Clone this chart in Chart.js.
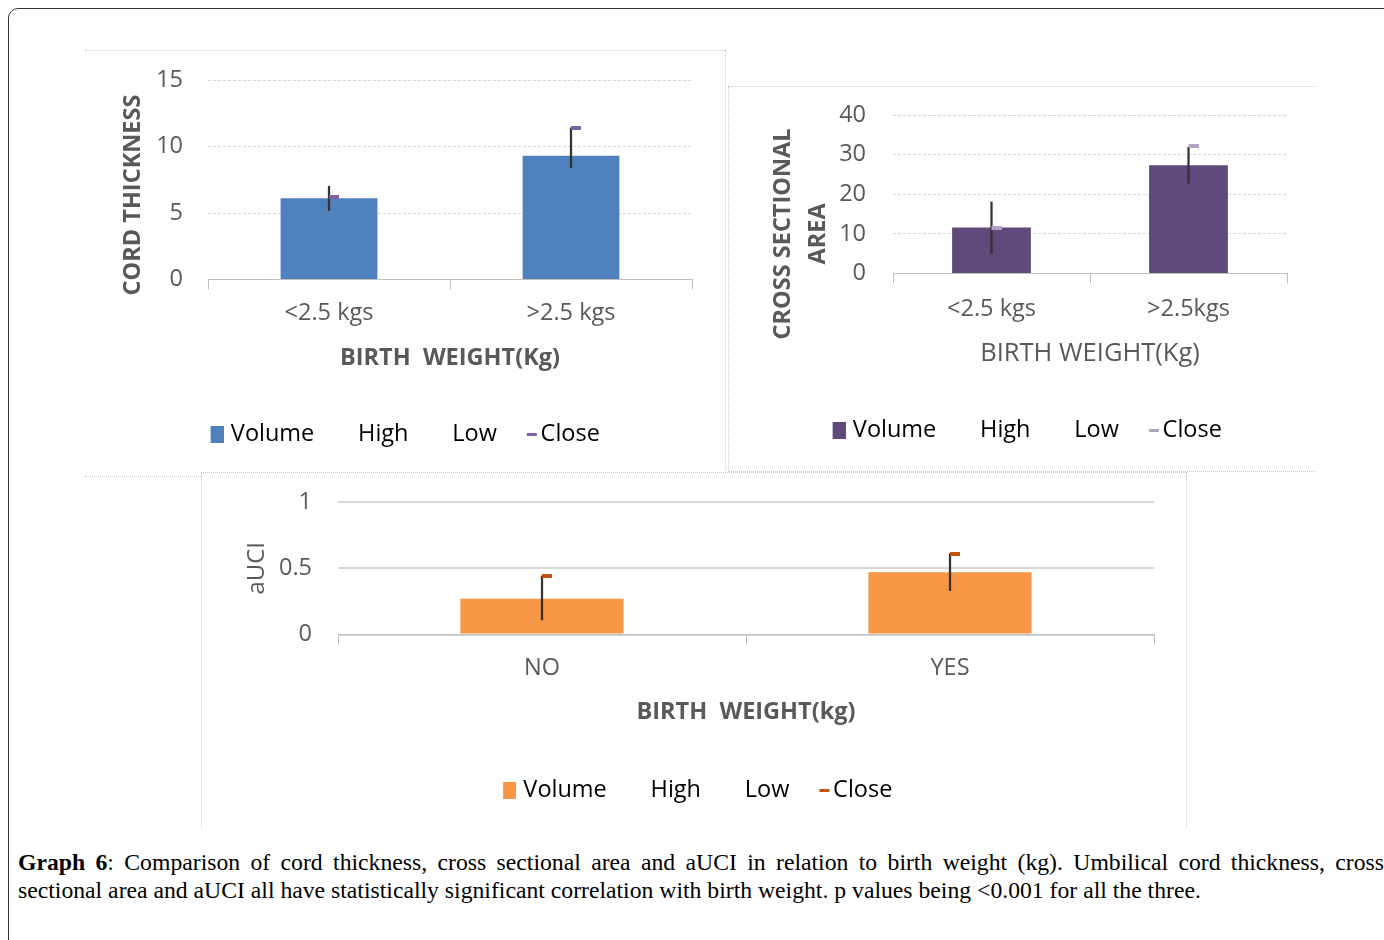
<!DOCTYPE html>
<html>
<head>
<meta charset="utf-8">
<script src="https://cdn.jsdelivr.net/npm/chart.js@4"></script>
<style>
  body { margin: 0; background: #fff; width: 1384px; height: 940px; overflow: hidden; position: relative; font-family: "Open Sans", sans-serif; }
  .outer { position: absolute; left: 8px; top: 8px; width: 1420px; height: 960px; border: 1px solid #333; border-radius: 10px; }
  .box { position: absolute; }
  .line { position: absolute; border-color: #c8c8c8; border-style: dotted; border-width: 0; }
  .caption { position: absolute; left: 18px; font-family: "Liberation Serif", serif; font-size: 23.7px; line-height: 28px; color: #000; white-space: nowrap; }
  .caption.first { width: 1366px; text-align: justify; text-align-last: justify; }
</style>
</head>
<body>
<div class="outer"></div>

<!-- panel frames -->
<div class="line" style="left:85px; top:50px; width:640px; border-top-width:1px;"></div>
<div class="line" style="left:725px; top:50px; height:420px; border-left-width:1px;"></div>
<div class="line" style="left:85px; top:476px; width:116px; border-top-width:1px;"></div>
<div class="line" style="left:728px; top:86px; width:588px; border-top-width:1px;"></div>
<div class="line" style="left:728px; top:86px; height:384px; border-left-width:1px;"></div>
<div class="line" style="left:728px; top:471px; width:588px; border-top-width:1px;"></div>
<div class="line" style="left:201px; top:472px; width:985px; border-top-width:1px;"></div>
<div class="line" style="left:201px; top:472px; height:356px; border-left-width:1px;"></div>
<div class="line" style="left:1186px; top:472px; height:356px; border-left-width:1px;"></div>

<div class="box" style="left:85px; top:50px;"><canvas id="thickChart" width="640" height="426"></canvas></div>
<div class="box" style="left:728px; top:86px;"><canvas id="csaChart" width="588" height="385"></canvas></div>
<div class="box" style="left:201px; top:472px;"><canvas id="auciChart" width="985" height="356"></canvas></div>

<div class="caption first" style="top:848px;"><b>Graph 6</b>: Comparison of cord thickness, cross sectional area and aUCI in relation to birth weight (kg). Umbilical cord thickness, cross</div>
<div class="caption" style="top:876px;">sectional area and aUCI all have statistically significant correlation with birth weight. p values being &lt;0.001 for all the three.</div>

<script>
// cord thickness
const thickLabels = ["<2.5 kgs", ">2.5 kgs"];
const thickVolume = [6.1, 9.3];
const thickHigh = [7.0, 11.4];
const thickLow = [5.2, 8.4];
const thickClose = [6.2, 11.4];
const thickTicks = [0, 5, 10, 15];

// cross sectional area
const csaLabels = ["<2.5 kgs", ">2.5kgs"];
const csaVolume = [11.6, 27.3];
const csaHigh = [18, 31.9];
const csaLow = [5, 22.8];
const csaClose = [11.6, 32.2];
const csaTicks = [0, 10, 20, 30, 40];

// aUCI
const auciLabels = ["NO", "YES"];
const auciVolume = [0.27, 0.47];
const auciHigh = [0.44, 0.61];
const auciLow = [0.11, 0.33];
const auciClose = [0.44, 0.61];
const auciTicks = [0, 0.5, 1];

const GREY = "#595959";
const NB = "\u00a0";

// small images used as point styles (fill from fromX to the right edge)
function makeImg(w, h, color, fromX, toX) {
  const c = document.createElement("canvas");
  c.width = w;
  c.height = h;
  if (color) {
    const g = c.getContext("2d");
    g.fillStyle = color;
    const a = fromX || 0;
    g.fillRect(a, 0, (toX || w) - a, h);
  }
  return c;
}

function candleChart(id, p) {
  const blank = makeImg(1, 1, null);
  return new Chart(document.getElementById(id), {
    type: "bar",
    data: {
      labels: p.labels,
      datasets: [
        {
          type: "bar",
          label: "Volume",
          data: p.volume,
          backgroundColor: p.barColor,
          barPercentage: 0.4,
          categoryPercentage: 1,
          grouped: false,
          order: 2,
        },
        {
          type: "bar",
          label: "High-Low",
          data: p.low.map((v, i) => [v, p.high[i]]),
          backgroundColor: "#333333",
          barThickness: 1.6,
          grouped: false,
          order: 1,
        },
        {
          type: "line",
          label: "Close",
          data: p.close,
          showLine: false,
          pointStyle: makeImg(20, 4, p.closeColor, 10),
          order: 0,
        },
      ],
    },
    options: {
      responsive: false,
      animation: false,
      layout: { padding: { top: p.padTop, right: p.padRight, bottom: p.padBottom, left: p.padLeft } },
      plugins: {
        tooltip: { enabled: false },
        legend: {
          position: "bottom",
          labels: {
            usePointStyle: true,
            boxWidth: 13,
            padding: 19,
            color: GREY,
            font: { family: "Open Sans", size: 23.5 },
            generateLabels: () => [
              { text: "Volume", pointStyle: makeImg(22, 17, p.barColor, 9), fillStyle: p.barColor, strokeStyle: "transparent", lineWidth: 0, hidden: false },
              { text: "High", pointStyle: blank, fillStyle: "transparent", strokeStyle: "transparent", lineWidth: 0, hidden: false },
              { text: "Low", pointStyle: blank, fillStyle: "transparent", strokeStyle: "transparent", lineWidth: 0, hidden: false },
              { text: "Close", pointStyle: makeImg(33, 3, p.closeColor, 21, 31), fillStyle: p.closeColor, strokeStyle: "transparent", lineWidth: 0, hidden: false },
            ],
          },
        },
      },
      scales: {
        x: {
          offset: true,
          grid: { drawOnChartArea: false, offset: true, tickLength: 10, color: "#bfbfbf" },
          border: { color: "#bfbfbf" },
          ticks: { color: GREY, padding: p.xTickPad, font: { family: "Open Sans", size: 23.5 } },
          title: {
            display: true,
            text: p.xTitle,
            color: GREY,
            font: { family: "Open Sans", size: p.xTitleSize, weight: p.xTitleWeight },
            padding: { top: 0, bottom: p.xTitlePad },
          },
          afterFit: (scale) => { scale.height = p.xHeight; },
        },
        y: {
          min: 0,
          max: p.ticks[p.ticks.length - 1],
          afterBuildTicks: (scale) => { scale.ticks = p.ticks.map((v) => ({ value: v })); },
          // invisible tick marks give the gap between labels and plot
          grid: { drawTicks: true, tickLength: p.yTickGap, tickColor: "transparent", color: "#d6d6d6", lineWidth: p.gridWidth },
          border: { display: false, dash: p.gridDash },
          ticks: {
            color: GREY,
            padding: 3,
            font: { family: "Open Sans", size: 23.5 },
            callback: (v) => String(v),
          },
          title: {
            display: true,
            // trailing spaces push the rotated title down like in the original
            text: p.yTitle,
            color: GREY,
            font: { family: "Open Sans", size: p.yTitleSize, weight: p.yTitleWeight, lineHeight: p.yTitleLH },
            padding: { top: p.yTitlePad, bottom: 0 },
          },
          afterFit: (scale) => { scale.width = p.yWidth; },
        },
      },
    },
  });
}

candleChart("thickChart", {
  labels: thickLabels, volume: thickVolume, high: thickHigh, low: thickLow, close: thickClose, ticks: thickTicks,
  barColor: "#4f81bd", closeColor: "#8064a2",
  padTop: 30, padRight: 33, padBottom: 20, padLeft: 29,
  xHeight: 124, xTickPad: 10, xTitle: "BIRTH  WEIGHT(Kg)", xTitleSize: 23.5, xTitleWeight: "bold", xTitlePad: 31,
  yWidth: 94, yTickGap: 22, yTitle: "CORD THICKNESS" + NB.repeat(5), yTitleSize: 23.5, yTitleWeight: "bold", yTitleLH: 1.2, yTitlePad: 5,
  gridDash: [3, 2], gridWidth: 1,
});

candleChart("csaChart", {
  labels: csaLabels, volume: csaVolume, high: csaHigh, low: csaLow, close: csaClose, ticks: csaTicks,
  barColor: "#604a7b", closeColor: "#b3a2c7",
  padTop: 29, padRight: 29, padBottom: 19, padLeft: 35,
  xHeight: 126, xTickPad: 12, xTitle: "BIRTH WEIGHT(Kg)", xTitleSize: 25.5, xTitleWeight: "normal", xTitlePad: 30,
  yWidth: 130, yTickGap: 24, yTitle: ["CROSS SECTIONAL" + NB.repeat(13), "AREA" + NB.repeat(13)], yTitleSize: 23.5, yTitleWeight: "bold", yTitleLH: 1.49, yTitlePad: 2.5,
  gridDash: [3, 2], gridWidth: 1,
});

candleChart("auciChart", {
  labels: auciLabels, volume: auciVolume, high: auciHigh, low: auciLow, close: auciClose, ticks: auciTicks,
  barColor: "#f79646", closeColor: "#c0560e",
  padTop: 30, padRight: 32, padBottom: 16, padLeft: 36,
  xHeight: 125, xTickPad: 10, xTitle: "BIRTH  WEIGHT(kg)", xTitleSize: 23.5, xTitleWeight: "bold", xTitlePad: 33,
  yWidth: 101, yTickGap: 23, yTitle: "aUCI", yTitleSize: 24, yTitleWeight: "normal", yTitleLH: 1.2, yTitlePad: 5.6,
  gridDash: [], gridWidth: 2,
});
</script>
</body>
</html>
